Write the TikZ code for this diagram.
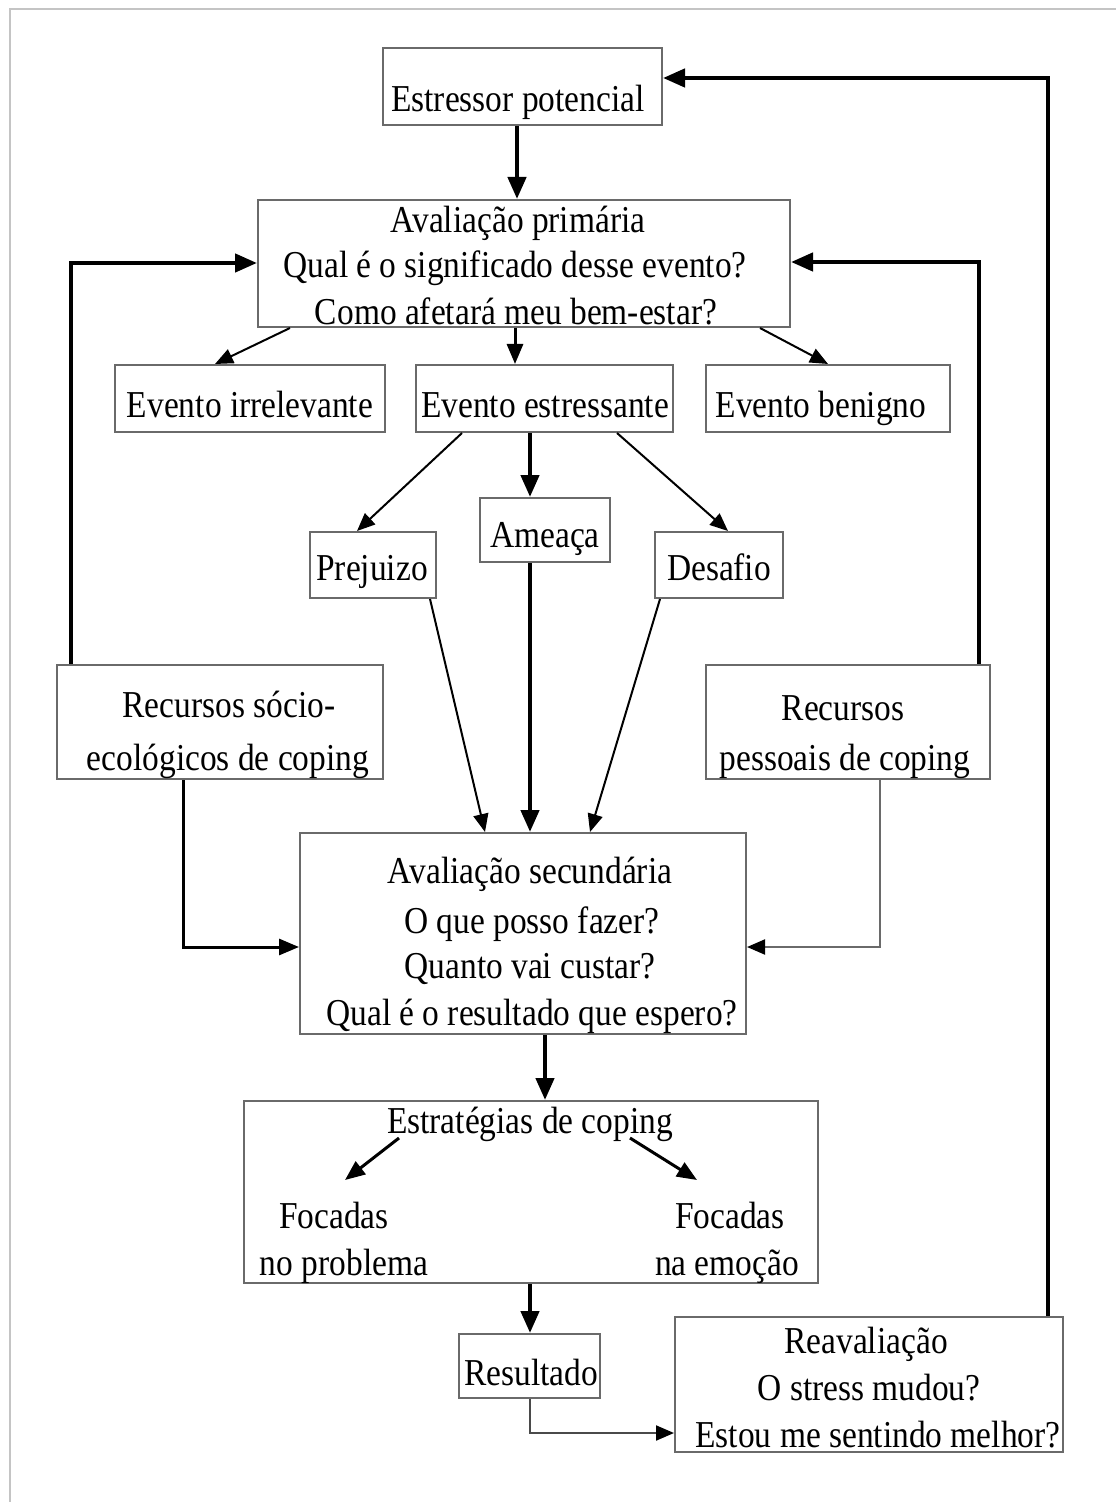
\documentclass[tikz,border=0pt]{standalone}
\usepackage{fontspec}
\setmainfont[FakeStretch=0.88]{Liberation Serif}
\usetikzlibrary{arrows.meta}
\definecolor{boxgray}{HTML}{6A6A6A}
\definecolor{framegray}{HTML}{C4C4C4}
\begin{document}
\begin{tikzpicture}[x=0.5pt,y=-0.5pt,
  box/.style={draw=boxgray, line width=1pt, inner sep=0pt},
  lbl/.style={anchor=base, inner sep=0pt, font=\fontsize{19}{22}\selectfont},
  arrK/.style={line width=2.2pt, -{Triangle[length=11pt,width=9pt]}},
  arrM/.style={line width=1.5pt, -{Triangle[length=10pt,width=8pt]}},
  arrT/.style={line width=1pt, -{Triangle[length=9pt,width=7.5pt,color=black]}},
]
\useasboundingbox (0,0) rectangle (1116,1502);
\fill[white] (0,0) rectangle (1116,1502);
\draw[framegray, line width=1pt] (10,1502) -- (10,9) -- (1116,9);

% boxes
\node[box, minimum width=139.5pt, minimum height=38.5pt] (est) at (522.5,86.5) {};
\node[box, minimum width=266pt, minimum height=63.5pt] (ap) at (524,263.5) {};
\node[box, minimum width=135pt, minimum height=33.5pt] (irr) at (250,398.5) {};
\node[box, minimum width=128.5pt, minimum height=33.5pt] (estr) at (544.5,398.5) {};
\node[box, minimum width=122pt, minimum height=33.5pt] (ben) at (828,398.5) {};
\node[box, minimum width=63pt, minimum height=33pt] (prej) at (373,565) {};
\node[box, minimum width=65pt, minimum height=32pt] (ame) at (545,530) {};
\node[box, minimum width=64pt, minimum height=33pt] (des) at (719,565) {};
\node[box, minimum width=163pt, minimum height=57pt] (rsoc) at (220,722) {};
\node[box, minimum width=142pt, minimum height=57pt] (rpes) at (848,722) {};
\node[box, minimum width=223pt, minimum height=100.5pt] (as) at (523,933.5) {};
\node[box, minimum width=287pt, minimum height=91pt] (estrat) at (531,1192) {};
\node[box, minimum width=70.5pt, minimum height=32pt] (res) at (529.5,1366) {};
\node[box, minimum width=194pt, minimum height=67.5pt] (reav) at (869,1384.5) {};

% texts
\node[lbl] (t-est) at (518,112) {Estressor potencial};
\node[lbl] (t-ap1) at (518,233) {Avaliação primária};
\node[lbl] (t-ap2) at (515,278) {Qual é o significado desse evento?};
\node[lbl] (t-ap3) at (516,325) {Como afetará meu bem-estar?};
\node[lbl] (t-irr) at (250,417) {Evento irrelevante};
\node[lbl] (t-estr) at (545,417) {Evento estressante};
\node[lbl] (t-ben) at (821,417) {Evento benigno};
\node[lbl] (t-prej) at (372,580) {Prejuizo};
\node[lbl] (t-ame) at (545,547) {Ameaça};
\node[lbl] (t-des) at (719,580) {Desafio};
\node[lbl] (t-rs1) at (229,717) {Recursos sócio-};
\node[lbl] (t-rs2) at (228,770) {ecológicos de coping};
\node[lbl] (t-rp1) at (843,720) {Recursos};
\node[lbl] (t-rp2) at (845,770) {pessoais de coping};
\node[lbl] (t-as1) at (530,883) {Avaliação secundária};
\node[lbl] (t-as2) at (532,933) {O que posso fazer?};
\node[lbl] (t-as3) at (530,978) {Quanto vai custar?};
\node[lbl] (t-as4) at (532,1025) {Qual é o resultado que espero?};
\node[lbl] (t-ec) at (530,1133) {Estratégias de coping};
\node[lbl] (t-f1) at (334,1228) {Focadas};
\node[lbl] (t-f2) at (344,1275) {no problema};
\node[lbl] (t-f3) at (730,1228) {Focadas};
\node[lbl] (t-f4) at (727,1275) {na emoção};
\node[lbl] (t-res) at (531,1385) {Resultado};
\node[lbl] (t-rv1) at (866,1353) {Reavaliação};
\node[lbl] (t-rv2) at (869,1400) {O stress mudou?};
\node[lbl] (t-rv3) at (878,1447) {Estou me sentindo melhor?};

% internal arrow points of coping box
\coordinate (cL0) at (399,1138);
\coordinate (cL1) at (345,1180);
\coordinate (cR0) at (630,1138);
\coordinate (cR1) at (697,1180);

% connectors
\draw[arrK] (517,0 |- est.south) -- (517,0 |- ap.north);
\draw[arrK] (1048,0 |- reav.north) |- (est.east |- 0,78);
\draw[arrT] (290,0 |- ap.south) -- (215,0 |- irr.north);
\draw[arrM] (515,0 |- ap.south) -- (515,0 |- estr.north);
\draw[arrT] (760,0 |- ap.south) -- (828,0 |- ben.north);
\draw[arrT] (462,0 |- estr.south) -- (357,0 |- prej.north);
\draw[arrK] (530,0 |- estr.south) -- (530,0 |- ame.north);
\draw[arrT] (617,0 |- estr.south) -- (728,0 |- des.north);
\draw[arrT] (430,0 |- prej.south) -- (485,0 |- as.north);
\draw[arrK] (530,0 |- ame.south) -- (530,0 |- as.north);
\draw[arrT] (660,0 |- des.south) -- (590,0 |- as.north);
\draw[arrK] (71,0 |- rsoc.north) |- (ap.west |- 0,263);
\draw[arrK] (979,0 |- rpes.north) |- (ap.east |- 0,262);
\draw[arrM] (183,0 |- rsoc.south) |- (as.west |- 0,947);
\draw[arrT, draw=boxgray] (880,0 |- rpes.south) |- (as.east |- 0,947);
\draw[arrK] (545,0 |- as.south) -- (545,0 |- estrat.north);
\draw[arrM] (cL0) -- (cL1);
\draw[arrM] (cR0) -- (cR1);
\draw[arrK] (530,0 |- estrat.south) -- (530,0 |- res.north);
\draw[arrT, draw=boxgray!70!black] (530,0 |- res.south) |- (reav.west |- 0,1433);
\end{tikzpicture}
\end{document}
